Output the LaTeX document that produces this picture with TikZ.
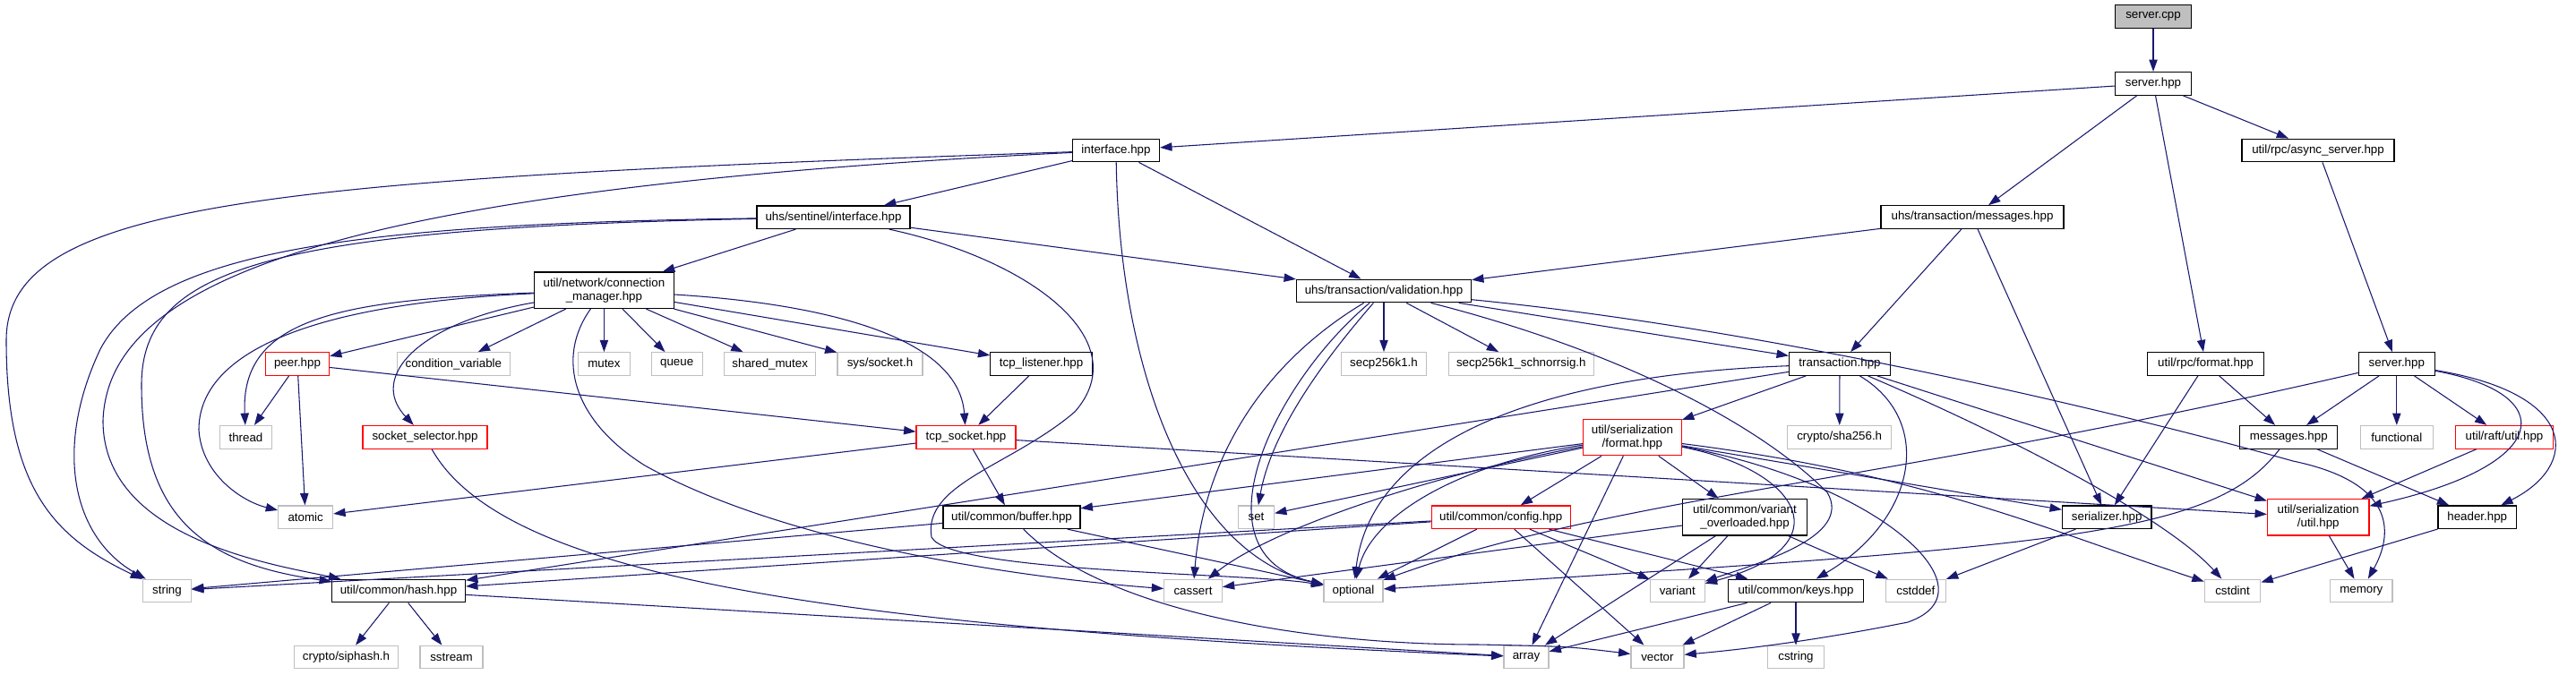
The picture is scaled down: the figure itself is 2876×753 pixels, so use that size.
\documentclass[tikz,border=0pt]{standalone}
\usepackage{fontspec}
\setmainfont{Liberation Sans}
\usetikzlibrary{arrows.meta}
\definecolor{edgec}{RGB}{25,25,112}
\definecolor{greyb}{RGB}{191,191,191}
\tikzset{
 box/.style={draw, line width=0.9pt, inner sep=0pt, minimum height=19.2pt, font=\fontsize{10}{11.25}\selectfont, align=center, fill=white},
 proj/.style={box, draw=black},
 ext/.style={box, draw=greyb},
 redb/.style={box, draw=red},
 root/.style={box, draw=black, fill=greyb},
 two/.style={minimum height=30.4pt},
 e/.style={draw=edgec, line width=0.8pt, -{Triangle[length=10pt,width=7pt]}}
}
\begin{document}
\begin{tikzpicture}[x=0.75pt,y=-0.75pt]
\useasboundingbox (0,0) rectangle (2876,753);
% row 0-2
\node[root, minimum width=63.75pt] (scpp) at (2404,18.5) {server.cpp};
\node[proj, minimum width=63.75pt] (shpp) at (2404,93.3) {server.hpp};
\node[proj, minimum width=72.75pt] (iface) at (1246,168) {interface.hpp};
\node[proj, minimum width=127.5pt] (async) at (2588,168) {util/rpc/async\_server.hpp};
\node[proj, minimum width=128.25pt] (sent) at (930.5,242.7) {uhs/sentinel/interface.hpp};
\node[proj, minimum width=153pt] (tmsg) at (2202,242.5) {uhs/transaction/messages.hpp};
\node[proj, two, minimum width=117pt] (cmgr) at (674.4,324.2) {util/network/connection\\\_manager.hpp};
\node[proj, minimum width=146.25pt] (valid) at (1545,325) {uhs/transaction/validation.hpp};
% row y=406.5
\node[redb, minimum width=53.25pt] (peer) at (332,406.5) {peer.hpp};
\node[ext, minimum width=94.5pt] (condvar) at (506.4,406.5) {condition\_variable};
\node[ext, minimum width=43.5pt] (mutex) at (674.4,406.5) {mutex};
\node[ext, minimum width=42.75pt] (queue) at (755.7,406.5) {queue};
\node[ext, minimum width=76.5pt] (shmutex) at (859.7,406.5) {shared\_mutex};
\node[ext, minimum width=71.25pt] (syssock) at (982.5,406.5) {sys/socket.h};
\node[proj, minimum width=85.1pt] (tcpl) at (1162.6,406.5) {tcp\_listener.hpp};
\node[ext, minimum width=71.25pt] (secp) at (1545,406.5) {secp256k1.h};
\node[ext, minimum width=121.5pt] (schnorr) at (1698.3,406.5) {secp256k1\_schnorrsig.h};
\node[proj, minimum width=84.75pt] (tx) at (2054,406.5) {transaction.hpp};
\node[proj, minimum width=97.5pt] (rpcfmt) at (2462.5,406.5) {util/rpc/format.hpp};
\node[proj, minimum width=63.75pt] (rpcsrv) at (2675.8,406.5) {server.hpp};
% row y=488
\node[ext, minimum width=43.5pt] (thread) at (274.5,488.3) {thread};
\node[redb, minimum width=104.25pt] (sockselect) at (474.5,488.3) {socket\_selector.hpp};
\node[redb, minimum width=83.25pt] (tcps) at (1078.5,488.3) {tcp\_socket.hpp};
\node[redb, two, minimum width=82.5pt] (sfmt) at (1822.4,488.5) {util/serialization\\/format.hpp};
\node[ext, minimum width=87pt] (sha) at (2053.7,488.3) {crypto/sha256.h};
\node[proj, minimum width=81.75pt] (msgs) at (2555.3,488.3) {messages.hpp};
\node[ext, minimum width=60.75pt] (func) at (2675.8,488.3) {functional};
\node[redb, minimum width=81.4pt] (raft) at (2796,488.3) {util/raft/util.hpp};
% row y=577.7
\node[ext, minimum width=45.75pt] (atomic) at (341.2,577.7) {atomic};
\node[proj, minimum width=114.75pt] (buffer) at (1129.5,577.7) {util/common/buffer.hpp};
\node[ext, minimum width=30pt] (set) at (1402.5,577.7) {set};
\node[redb, minimum width=116.25pt] (config) at (1675.7,577.7) {util/common/config.hpp};
\node[proj, two, minimum width=103.9pt] (varov) at (1948,577.7) {util/common/variant\\\_overloaded.hpp};
\node[proj, minimum width=74.6pt] (serializer) at (2352.2,577.7) {serializer.hpp};
\node[redb, two, minimum width=85.1pt] (sutil) at (2588.2,577.8) {util/serialization\\/util.hpp};
\node[proj, minimum width=65.5pt] (header) at (2765.7,577.7) {header.hpp};
% row y=660
\node[ext, minimum width=40.5pt] (string) at (186.5,660) {string};
\node[proj, minimum width=111.75pt] (hash) at (445,660) {util/common/hash.hpp};
\node[ext, minimum width=48.4pt] (cassert) at (1332,660) {cassert};
\node[ext, minimum width=49.5pt] (optional) at (1511,660) {optional};
\node[ext, minimum width=45.5pt] (variant) at (1872.8,660) {variant};
\node[proj, minimum width=113.25pt] (keys) at (2005,660) {util/common/keys.hpp};
\node[ext, minimum width=50.25pt] (cstddef) at (2138.8,660) {cstddef};
\node[ext, minimum width=46.9pt] (cstdint) at (2492.5,660) {cstdint};
\node[ext, minimum width=52.1pt] (memory) at (2636.3,660) {memory};
% row y=734
\node[ext, minimum width=87pt] (siphash) at (386.5,734) {crypto/siphash.h};
\node[ext, minimum width=52.5pt] (sstream) at (504,734) {sstream};
\node[ext, minimum width=37.5pt] (array) at (1704,734) {array};
\node[ext, minimum width=44.25pt] (vector) at (1850.4,734) {vector};
\node[ext, minimum width=47.25pt] (cstring) at (2005,734) {cstring};

% ---- edges ----
\draw[e] (scpp) -- (shpp);
\draw[e] (shpp) -- (iface);
\draw[e] (shpp) -- (tmsg);
\draw[e] (shpp) -- (rpcfmt);
\draw[e] (shpp) -- (async);
\draw[e] (async) -- (rpcsrv);
% interface.hpp
\draw[e] (iface) .. controls (300,200) and (7,225) .. (7,380) .. controls (7,545) and (60,600) .. (string);
\draw[e] (iface) .. controls (350,212) and (120,320) .. (115,470) .. controls (115,600) and (300,630) .. (hash);
\draw[e] (iface) -- (sent);
\draw[e] (iface) -- (valid);
\draw[e] (iface) .. controls (1250,420) and (1330,620) .. (optional);
% sentinel
\draw[e] (sent) -- (cmgr);
\draw[e] (sent) -- (valid);
\draw[e] (sent) .. controls (400,250) and (170,280) .. (112,390) .. controls (60,500) and (80,600) .. (string);
\draw[e] (sent) .. controls (300,255) and (158,300) .. (158,430) .. controls (158,580) and (230,630) .. (hash);
\draw[e] (sent) .. controls (1150,290) and (1270,380) .. (1200,460) .. controls (1130,520) and (1030,540) .. (1040,600) .. controls (1060,640) and (1400,640) .. (optional);
% connection manager
\draw[e] (cmgr) -- (peer);
\draw[e] (cmgr) -- (condvar);
\draw[e] (cmgr) -- (mutex);
\draw[e] (cmgr) -- (queue);
\draw[e] (cmgr) -- (shmutex);
\draw[e] (cmgr) -- (syssock);
\draw[e] (cmgr) -- (tcpl);
\draw[e] (cmgr) .. controls (900,338) and (1070,370) .. (tcps);
\draw[e] (cmgr) .. controls (470,360) and (410,420) .. (sockselect);
\draw[e] (cmgr) .. controls (380,335) and (268,355) .. (thread);
\draw[e] (cmgr) .. controls (330,340) and (222,400) .. (222,480) .. controls (225,530) and (270,560) .. (atomic);
\draw[e] (cmgr) .. controls (620,400) and (640,470) .. (720,520) .. controls (900,620) and (1200,650) .. (cassert);
% peer etc
\draw[e] (peer) -- (thread);
\draw[e] (peer) -- (atomic);
\draw[e] (peer) -- (tcps);
\draw[e] (sockselect) .. controls (560,640) and (900,700) .. (array);
\draw[e] (tcpl) -- (tcps);
\draw[e] (tcps) -- (atomic);
\draw[e] (tcps) -- (buffer);
\draw[e] (tcps) -- (sutil);
\draw[e] (buffer) -- (string);
\draw[e] (buffer) -- (optional);
\draw[e] (buffer) .. controls (1230,680) and (1450,720) .. (1650,720) .. controls (1750,722) .. (vector);
\draw[e] (hash) -- (siphash);
\draw[e] (hash) -- (sstream);
\draw[e] (hash) -- (array);
% validation
\draw[e] (valid) -- (tx);
\draw[e] (valid) -- (secp);
\draw[e] (valid) -- (schnorr);
\draw[e] (valid) .. controls (1480,400) and (1420,480) .. (set);
\draw[e] (valid) .. controls (1420,400) and (1345,500) .. (cassert);
\draw[e] (valid) .. controls (1420,430) and (1330,620) .. (optional);
\draw[e] (valid) .. controls (1800,390) and (1960,470) .. (2040,550) .. controls (2070,600) and (1960,630) .. (variant);
\draw[e] (valid) .. controls (2000,370) and (2400,470) .. (2560,515) .. controls (2680,540) and (2670,600) .. (memory);
% messages / rpc
\draw[e] (tmsg) -- (valid);
\draw[e] (tmsg) -- (tx);
\draw[e] (tmsg) -- (serializer);
\draw[e] (rpcfmt) -- (serializer);
\draw[e] (rpcfmt) -- (msgs);
\draw[e] (rpcsrv) .. controls (2100,540) and (1800,555) .. (optional);
\draw[e] (rpcsrv) -- (msgs);
\draw[e] (rpcsrv) -- (func);
\draw[e] (rpcsrv) -- (raft);
\draw[e] (rpcsrv) .. controls (2860,440) and (2850,520) .. (sutil);
\draw[e] (rpcsrv) .. controls (2880,440) and (2880,520) .. (header);
\draw[e] (msgs) .. controls (2470,600) and (2300,610) .. (optional);
\draw[e] (msgs) -- (header);
\draw[e] (raft) -- (sutil);
\draw[e] (sutil) -- (memory);
\draw[e] (header) -- (cstdint);
\draw[e] (serializer) -- (cstddef);
% transaction
\draw[e] (tx) -- (sha);
\draw[e] (tx) -- (sfmt);
\draw[e] (tx) .. controls (1700,420) and (1530,500) .. (optional);
\draw[e] (tx) -- (hash);
\draw[e] (tx) .. controls (2160,470) and (2140,580) .. (keys);
\draw[e] (tx) -- (sutil);
\draw[e] (tx) .. controls (2250,490) and (2420,580) .. (cstdint);
% serialization/format
\draw[e] (sfmt) -- (buffer);
\draw[e] (sfmt) -- (set);
\draw[e] (sfmt) .. controls (1600,530) and (1420,590) .. (cassert);
\draw[e] (sfmt) .. controls (1620,520) and (1530,580) .. (optional);
\draw[e] (sfmt) -- (config);
\draw[e] (sfmt) -- (array);
\draw[e] (sfmt) -- (varov);
\draw[e] (sfmt) .. controls (2010,525) and (2060,610) .. (variant);
\draw[e] (sfmt) -- (serializer);
\draw[e] (sfmt) .. controls (2150,530) and (2280,590) .. (cstdint);
\draw[e] (sfmt) .. controls (2100,540) and (2230,660) .. (2130,695) .. controls (2030,715) and (1950,725) .. (vector);
% config
\draw[e] (config) -- (string);
\draw[e] (config) -- (hash);
\draw[e] (config) -- (optional);
\draw[e] (config) -- (variant);
\draw[e] (config) -- (keys);
\draw[e] (config) -- (vector);
% variant_overloaded
\draw[e] (varov) -- (cassert);
\draw[e] (varov) -- (variant);
\draw[e] (varov) -- (array);
\draw[e] (varov) -- (cstddef);
% keys
\draw[e] (keys) -- (array);
\draw[e] (keys) -- (vector);
\draw[e] (keys) -- (cstring);
\end{tikzpicture}
\end{document}
